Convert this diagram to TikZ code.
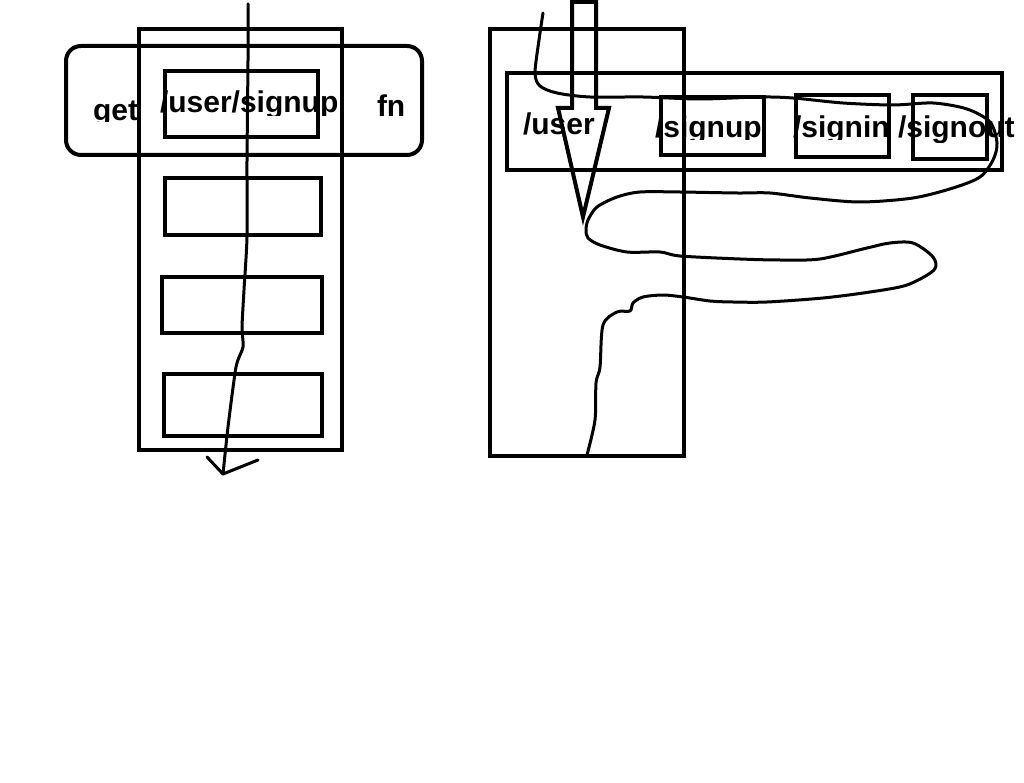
\documentclass[tikz,border=0pt]{standalone}
\usepackage{fontspec}
\setmainfont{Liberation Sans}
\begin{document}
\begin{tikzpicture}[x=1pt,y=-1pt,line join=miter,
  frame/.style={draw,line width=4pt,inner sep=0pt,outer sep=0pt},
  lbl/.style={anchor=base west,inner sep=0pt,outer sep=0pt,font=\fontsize{30}{30}\selectfont\bfseries},
  pen/.style={line width=3pt,line cap=round,line join=round},
  hollow/.style={line width=4pt,line join=miter}]
\useasboundingbox (0,0) rectangle (1024,783);
\fill[white] (0,0) rectangle (1024,783);
% ---------- texts (drawn first, lines go over them) ----------
\begin{scope}\clip (80,80) rectangle (145,122);
  \node[lbl] (tget) at (93,121) {get};\end{scope}
\begin{scope}\clip (150,70) rectangle (345,116);
  \node[lbl] (tus) at (160,113) {/user/signup};\end{scope}
\node[lbl] (tfn) at (377,117) {fn};
\node[lbl] (tuser) at (523,135) {/user};
\begin{scope}\clip (640,95) rectangle (775,140);
  \node[lbl] (tsu) at (655,138) {/signup};\end{scope}
\begin{scope}\clip (780,95) rectangle (900,140);
  \node[lbl] (tsi) at (793,138) {/signin};\end{scope}
\begin{scope}\clip (890,95) rectangle (1024,143);
  \node[lbl] (tso) at (898,138) {/signout};\end{scope}
% ---------- left group ----------
\node[frame,minimum width=203pt,minimum height=421pt] (ltall) at (240.5,239.5) {};
\node[frame,rounded corners=15pt,minimum width=356pt,minimum height=109pt] (lround) at (244,100.5) {};
\node[frame,minimum width=153pt,minimum height=66pt] (linner) at (241.5,104) {};
\node[frame,minimum width=156pt,minimum height=57pt] (lb1) at (243,206.5) {};
\node[frame,minimum width=160pt,minimum height=56pt] (lb2) at (242,305) {};
\node[frame,minimum width=158pt,minimum height=62pt] (lb3) at (243,405) {};
\coordinate (ltop) at (248,4);
\coordinate (ltip) at (223,474);
\draw[pen] plot[smooth,tension=0.4] coordinates {(ltop) (248,60) (247,160) (247,237) (244,290) (242,327) (243,347) (236,367) (228,427) (ltip)};
\draw[pen] (207,457) -- (ltip) -- (258,460);
% ---------- right group ----------
\node[frame,minimum width=194pt,minimum height=427pt] (rtall) at (587,242.5) {};
\node[frame,minimum width=495pt,minimum height=97pt] (rwide) at (754.5,121.5) {};
\node[frame,minimum width=103pt,minimum height=58pt] (rsu) at (712.5,126) {};
\node[frame,minimum width=93pt,minimum height=62pt] (rsi) at (842.5,126) {};
\node[frame,minimum width=74pt,minimum height=64pt] (rso) at (950,127) {};
% hollow arrow
\coordinate (atip) at (583,217);
\draw[hollow] (572,2) -- (572,108) -- (558,108) -- (atip) -- (609,108) -- (596,108) -- (596,2) -- cycle;
% winding line
\coordinate (rtop) at (543,13);
\coordinate (rend) at (587,455);
\draw[pen] plot[smooth,tension=0.5] coordinates {(rtop) (539,40) (535,73) (540,86) (557,93) (590,97) (643,97) (700,99) (760,97) (793,98) (843,103) (893,105) (933,103) (967,109) (990,122) (997,143) (993,160) (980,177) (953,188) (913,198) (860,202) (810,198) (770,193) (737,193) (680,192) (640,192) (617,197) (597,207) (588,220) (586,230) (588,238) (600,245) (627,252) (660,252) (680,256) (740,259) (780,260) (820,259) (867,248) (890,243) (913,243) (933,257) (934,270) (907,285) (870,292) (823,298) (767,302) (733,302) (710,301) (683,297) (663,295) (643,297) (633,303) (630,311) (617,312) (603,325) (600,367) (596,383) (595,420) (rend)};
\end{tikzpicture}
\end{document}
